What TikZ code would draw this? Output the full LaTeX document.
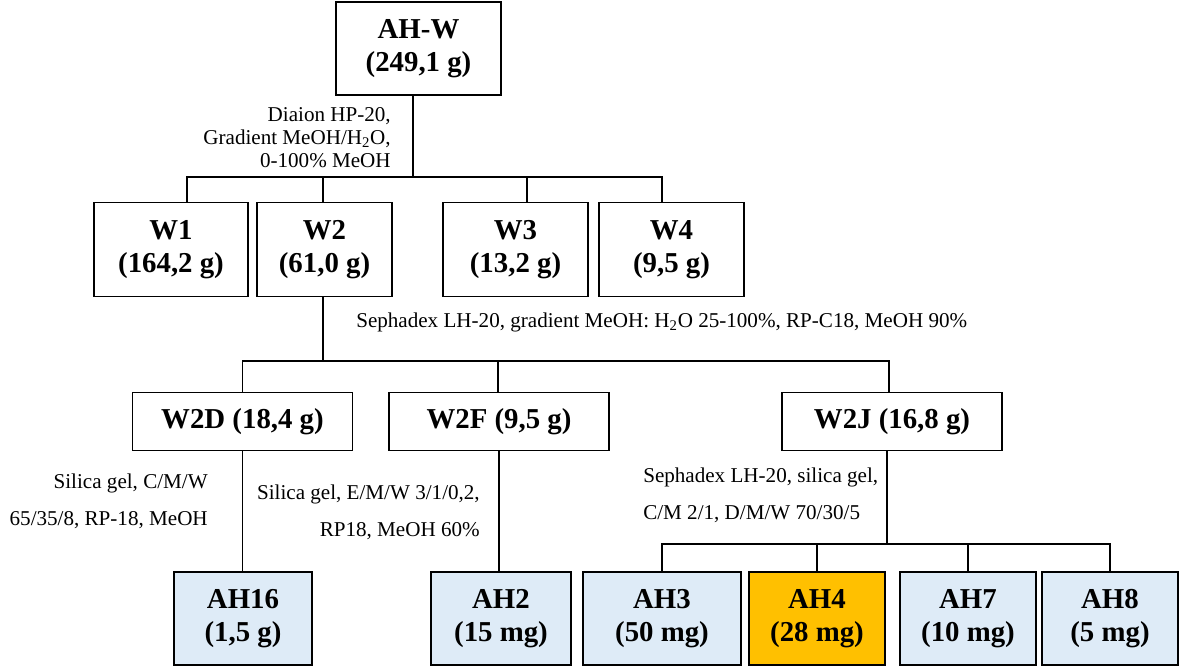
\documentclass[tikz,border=0pt]{standalone}
\usepackage{fontspec}
\setmainfont{Liberation Serif}
\usetikzlibrary{calc}
\definecolor{paleblue}{HTML}{DEEBF7}
\definecolor{amber}{HTML}{FFC000}

\begin{document}
\begin{tikzpicture}[x=0.025cm,y=-0.025cm,
    frac/.style={draw,line width=1.3pt,inner sep=0pt,align=center,
      font=\fontsize{20.5}{23.5}\selectfont\bfseries},
    pure/.style={frac,fill=paleblue,minimum height=2.325cm},
    note/.style={inner sep=0pt,font=\fontsize{15}{26.3}\selectfont},
    link/.style={line width=0.75pt}]
    \useasboundingbox (0,0) rectangle (1180,667);
    % Draw the crude extract
    \node[frac,minimum width=4.125cm,minimum height=2.325cm] (ahw) at (418.5,48.5) {AH-W\\(249,1 g)};
    % Draw the first fractions
    \foreach \n/\x/\w/\t in {w1/171/3.85/{W1\\(164,2 g)}, w2/324.5/3.375/{W2\\(61,0 g)},
        w3/515.5/3.625/{W3\\(13,2 g)}, w4/671.5/3.625/{W4\\(9,5 g)}}{
      \node[frac,minimum width=\w cm,minimum height=2.35cm] (\n) at (\x,249.5) {\t};
    }
    % Draw the subfractions of W2
    \foreach \n/\x/\t in {w2d/242.5/{W2D (18,4 g)}, w2f/499/{W2F (9,5 g)}, w2j/892/{W2J (16,8 g)}}{
      \node[frac,minimum width=5.5cm,minimum height=1.45cm] (\n) at (\x,421.5) {\t};
    }
    % Draw the pure compounds
    \foreach \n/\x/\w/\t in {ah16/243/3.45/{AH16\\(1,5 g)}, ah2/501/3.5/{AH2\\(15 mg)},
        ah3/662/3.95/{AH3\\(50 mg)}, ah7/968/3.4/{AH7\\(10 mg)}, ah8/1110/3.4/{AH8\\(5 mg)}}{
      \node[pure,minimum width=\w cm] (\n) at (\x,618.5) {\t};
    }
    \node[pure,fill=amber,minimum width=3.4cm] (ah4) at (817,618.5) {AH4\\(28 mg)};

    % Draw the connectors
    \coordinate (j1) at (413,177);
    \draw[link] (j1 |- ahw.south) -- (j1);
    \foreach \n/\dx in {w1/16, w2/-1.5, w3/11.5, w4/-9.5}{
      \draw[link] ($(\n.north)+(\dx,0)$) |- (j1);
    }
    \coordinate (j2) at (323,361);
    \draw[link] (j2 |- w2.south) -- (j2);
    \foreach \n/\dx in {w2d/0, w2f/-1, w2j/-3}{
      \draw[link] ($(\n.north)+(\dx,0)$) |- (j2);
    }
    \draw[link] (w2d.south) -- (w2d.south |- ah16.north);
    \draw[link] (w2f.south) -- (w2f.south |- ah2.north);
    \coordinate (j3) at (887,544);
    \draw[link] (j3 |- w2j.south) -- (j3);
    \foreach \n in {ah3, ah4, ah7, ah8}{
      \draw[link] (\n.north) |- (j3);
    }

    % Label the separation steps
    \node[note,font=\fontsize{15}{16.4}\selectfont,anchor=north east,align=right] (hp20) at (391,107)
      {Diaion HP-20,\\Gradient MeOH/H\textsubscript{2}O,\\0-100\% MeOH};
    \node[note,anchor=base west] (lh20) at (356,327)
      {Sephadex LH-20, gradient MeOH: H\textsubscript{2}O 25-100\%, RP-C18, MeOH 90\%};
    \node[note,anchor=north east,align=right] (cmw) at (208,474) {Silica gel, C/M/W\\65/35/8, RP-18, MeOH};
    \node[note,anchor=north east,align=right] (emw) at (480,485) {Silica gel, E/M/W 3/1/0,2,\\RP18, MeOH 60\%};
    \node[note,anchor=north west,align=left] (dmw) at (643,468) {Sephadex LH-20, silica gel,\\C/M 2/1, D/M/W 70/30/5};
\end{tikzpicture}
\end{document}
